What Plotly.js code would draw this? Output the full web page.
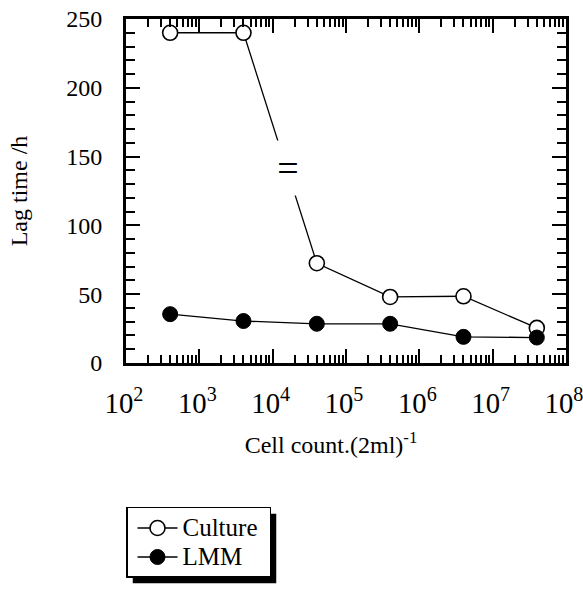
<!DOCTYPE html>
<html>
<head>
<meta charset="utf-8">
<script src="https://cdn.plot.ly/plotly-3.0.1.min.js"></script>
<style>html,body{margin:0;padding:0;background:#fff;}#chart{width:583px;height:602px;}</style>
</head>
<body>
<div id="chart"></div>
<script>
const cellCounts = [4e2, 4e3, 4e4, 4e5, 4e6, 4e7];
const cultureLag = [240, 240, 72.5, 48, 48.5, 25.5];
const lmmLag = [35.5, 30.5, 28.5, 28.5, 19, 18.5];
const seriesNames = ["Culture", "LMM"];

const F = "Liberation Serif, Times New Roman, serif";
const legendName = s => '<span style="font-size:25px">' + s + '&nbsp;</span>';

const traces = [
  {
    x: cellCounts, y: cultureLag, name: legendName(seriesNames[0]), type: "scatter", mode: "lines+markers",
    line: {color: "#000", width: 1.3},
    marker: {symbol: "circle", size: 15, color: "#fff", line: {color: "#000", width: 1.6}},
    cliponaxis: false
  },
  {
    x: cellCounts, y: lmmLag, name: legendName(seriesNames[1]), type: "scatter", mode: "lines+markers",
    line: {color: "#000", width: 1.3},
    marker: {symbol: "circle", size: 15, color: "#000", line: {color: "#000", width: 1}},
    cliponaxis: false
  }
];

const layout = {
  width: 583, height: 602,
  margin: {l: 126, r: 17, t: 19, b: 239},
  paper_bgcolor: "#fff", plot_bgcolor: "#fff",
  font: {family: F, color: "#000", size: 20},
  showlegend: true,
  legend: {
    x: 0, y: -0.4186, xanchor: "left", yanchor: "top",
    bgcolor: "#fff", bordercolor: "#000", borderwidth: 1.5,
    font: {family: F, size: 20, color: "#000"},
    itemwidth: 40, indentation: 5, tracegroupgap: 0
  },
  xaxis: {
    type: "log", range: [2, 8], dtick: 1, exponentformat: "power",
    showline: true, linecolor: "#000", linewidth: 3, mirror: "ticks",
    ticks: "inside", ticklen: 14, tickwidth: 2, tickcolor: "#000",
    minor: {ticks: "inside", ticklen: 8, tickwidth: 2, tickcolor: "#000", showgrid: false},
    showgrid: false, zeroline: false, ticklabeloverflow: "allow",
    tickfont: {family: F, size: 23}, ticklabelstandoff: 14, ticklabelshift: -2,
    title: {text: "Cell count.(2ml)<sup>-1</sup>&nbsp;&nbsp;&nbsp;&nbsp;&nbsp;", font: {family: F, size: 24}, standoff: 18}
  },
  yaxis: {
    range: [0, 250], dtick: 50,
    showline: true, linecolor: "#000", linewidth: 3, mirror: "ticks",
    ticks: "inside", ticklen: 14, tickwidth: 2, tickcolor: "#000",
    minor: {dtick: 10, ticks: "inside", ticklen: 9, tickwidth: 2, tickcolor: "#000", showgrid: false},
    showgrid: false, zeroline: false, ticklabeloverflow: "allow",
    tickfont: {family: F, size: 24}, ticklabelstandoff: 16,
    title: {text: "Lag time /h", font: {family: F, size: 24}, standoff: 32}
  },
  annotations: [
    {x: 4.21, y: 142, xref: "x", yref: "y", text: "=", showarrow: false,
     font: {family: F, size: 38, color: "#000"}, bgcolor: "#fff", width: 24, height: 54,
     borderpad: 0, valign: "middle"}
  ]
};

Plotly.newPlot("chart", traces, layout, {displayModeBar: false, staticPlot: true}).then(function (gd) {
  // drop shadow behind the legend box, sized from the rendered legend
  const bg = gd.querySelector(".legend .bg");
  if (!bg) return;
  const r = bg.getBoundingClientRect();
  const c = gd.getBoundingClientRect();
  const sz = gd._fullLayout._size;
  const off = 6;
  const px2x = p => (p - c.left - sz.l) / sz.w;
  const px2y = p => 1 - (p - c.top - sz.t) / sz.h;
  return Plotly.relayout(gd, {
    shapes: [{
      type: "rect", xref: "paper", yref: "paper",
      x0: px2x(r.left + off), x1: px2x(r.right + off),
      y0: px2y(r.bottom + off), y1: px2y(r.top + off),
      fillcolor: "#000", line: {width: 0}, layer: "above"
    }]
  });
});
</script>
</body>
</html>
